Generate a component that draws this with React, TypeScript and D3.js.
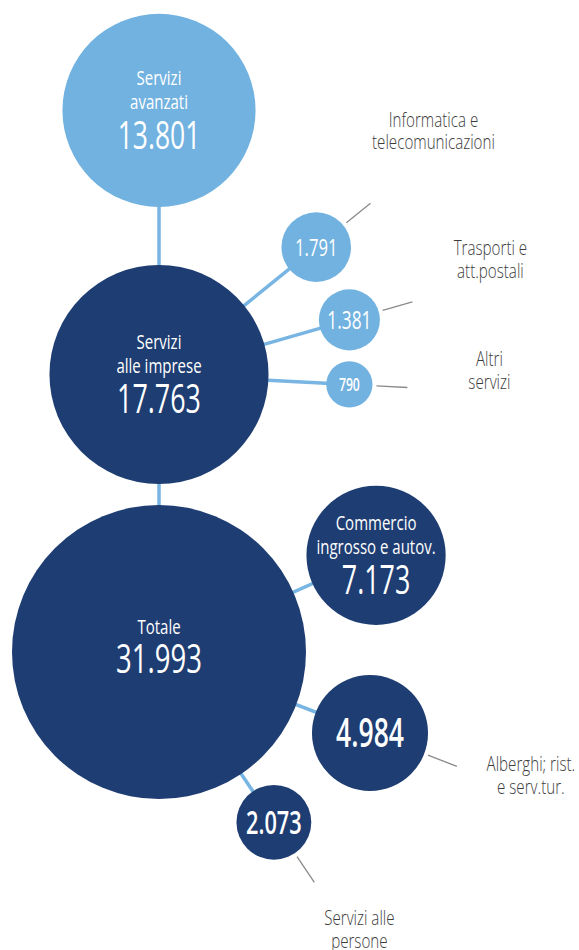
import React from "react";
import * as d3 from "d3";

// ---- data ----
const nodeIds = ["tot", "imp", "avz", "inf", "tra", "alt", "com", "alb", "per"];
const nodeParents = [null, "tot", "imp", "imp", "imp", "imp", "tot", "tot", "tot"];
const nodeValues = [31993, 17763, 13801, 1791, 1381, 790, 7173, 4984, 2073];
const innerLabels = [["Totale"], ["Servizi", "alle imprese"], ["Servizi", "avanzati"], [], [], [], ["Commercio", "ingrosso e autov."], [], []];
const outerLabels = [[], [], [], ["Informatica e", "telecomunicazioni"], ["Trasporti e", "att.postali"], ["Altri", "servizi"], [], ["Alberghi; rist.", "e serv.tur."], ["Servizi alle", "persone"]];
const valueLabels = ["31.993", "17.763", "13.801", "1.791", "1.381", "790", "7.173", "4.984", "2.073"];

// ---- layout / style ----
const W = 579, H = 950;
const rootPos = { x: 159, y: 652 };
const angles = [0, -90, -90, -39, -16, 3, -24, 21, 56]; // direction from parent, degrees
const gaps = [0, 21, 58, 58, 58, 58, 21, 21, 21]; // edge gap from parent
const lightNodes = ["avz", "inf", "tra", "alt"];
const numSizes = [40.5, 39.5, 39, 24.5, 25.5, 18, 39.5, 39, 32];
const numWeights = [500, 500, 500, 500, 500, 600, 500, 600, 600];
const outerOffsets: [number, number][] = [[0, 0], [0, 0], [0, 0], [63, -76.5], [78, -46.5], [82, -21.5], [0, 0], [74, 4.5], [45, 42.5]];

const DARK = "#1e3d72";
const LIGHT = "#72b2e0";
const LINK = "#78b5e2";
const FONT = "'Open Sans', 'Noto Sans', sans-serif";

export default function App() {
  const r = d3.scaleSqrt().domain([0, d3.max(nodeValues) as number]).range([0, 147]);
  const pos: Record<string, { x: number; y: number }> = {};
  nodeIds.forEach((id, i) => {
    const p = nodeParents[i];
    if (!p) { pos[id] = rootPos; return; }
    const pi = nodeIds.indexOf(p);
    const pp = pos[p];
    const a = (angles[i] * Math.PI) / 180;
    const d = r(nodeValues[pi]) + gaps[i] + r(nodeValues[i]);
    pos[id] = { x: pp.x + d * Math.cos(a), y: pp.y + d * Math.sin(a) };
  });

  const links = nodeIds.map((id, i) => ({ id, p: nodeParents[i] })).filter((l) => l.p);

  const TXT = 0.77;
  const NUM = 0.68;

  return (
    <svg width={W} height={H} style={{ position: "absolute", left: 0, top: 0, background: "#fff" }}>
      {links.map((l) => (
        <line key={l.id} x1={pos[l.p as string].x} y1={pos[l.p as string].y} x2={pos[l.id].x} y2={pos[l.id].y}
          stroke={LINK} strokeWidth={3.5} />
      ))}
      {nodeIds.map((id, i) => {
        if (!outerLabels[i].length) return null;
        const a = (angles[i] * Math.PI) / 180;
        const rr = r(nodeValues[i]);
        const c = pos[id];
        const x1 = c.x + (rr + 4) * Math.cos(a), y1 = c.y + (rr + 4) * Math.sin(a);
        const x2 = c.x + (rr + 35) * Math.cos(a), y2 = c.y + (rr + 35) * Math.sin(a);
        return <line key={"ld" + id} x1={x1} y1={y1} x2={x2} y2={y2} stroke="#8a8a8a" strokeWidth={1.3} />;
      })}
      {nodeIds.map((id, i) => (
        <circle key={"c" + id} cx={pos[id].x} cy={pos[id].y} r={r(nodeValues[i])}
          fill={lightNodes.includes(id) ? LIGHT : DARK} />
      ))}
      {nodeIds.map((id, i) => {
        const c = pos[id];
        const lines = innerLabels[i];
        const ns = numSizes[i];
        let lineYs: number[] = [];
        let numY = c.y + (ns * 0.714) / 2;
        if (lines.length === 2) { lineYs = [c.y - 25, c.y - 1.5]; numY = c.y + 39; }
        else if (lines.length === 1) { lineYs = [c.y - 18]; numY = c.y + 20.5; }
        return (
          <g key={"t" + id}>
            {lines.map((t, k) => (
              <text key={k} transform={`translate(${c.x},${lineYs[k]}) scale(${TXT},1)`}
                textAnchor="middle" fontFamily={FONT} fontSize={19.5} fill="#fff">{t}</text>
            ))}
            <text transform={`translate(${c.x},${numY}) scale(${NUM},1)`} textAnchor="middle"
              fontFamily={FONT} fontSize={ns} fontWeight={numWeights[i]} fill="#fff">{valueLabels[i]}</text>
          </g>
        );
      })}
      {nodeIds.map((id, i) => {
        if (!outerLabels[i].length) return null;
        const a = (angles[i] * Math.PI) / 180;
        const rr = r(nodeValues[i]);
        const c = pos[id];
        const ex = c.x + (rr + 35) * Math.cos(a), ey = c.y + (rr + 35) * Math.sin(a);
        const [dx, dy] = outerOffsets[i];
        return (
          <g key={"o" + id}>
            {outerLabels[i].map((t, k) => (
              <text key={k} transform={`translate(${ex + dx},${ey + dy + k * 22.7}) scale(0.74,1)`}
                textAnchor="middle" fontFamily={FONT} fontSize={20.5} fontWeight={300} fill="#3c3c3c">{t}</text>
            ))}
          </g>
        );
      })}
    </svg>
  );
}
